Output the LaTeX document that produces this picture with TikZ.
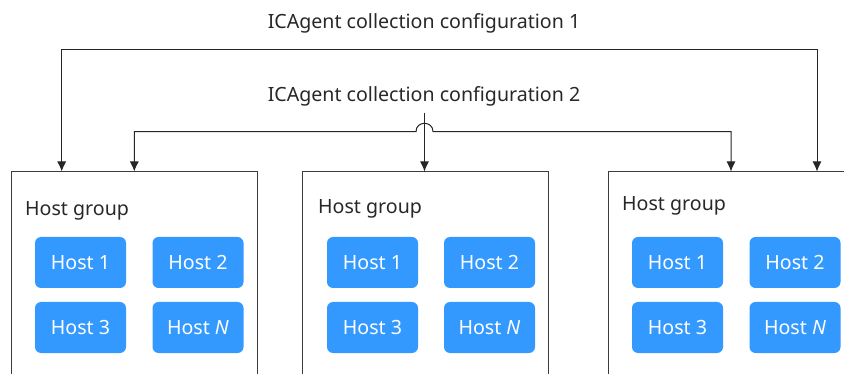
\documentclass[tikz,border=0pt]{standalone}
\usepackage{fontspec}
\setmainfont{Noto Sans}
\usetikzlibrary{arrows.meta}
\definecolor{hostblue}{RGB}{51,153,255}
\definecolor{linegray}{RGB}{60,60,60}
\definecolor{txtgray}{RGB}{40,40,40}
\tikzset{
  x=1pt,y=-1pt,
  groupbox/.style={draw=linegray, line width=1pt, fill=white, anchor=north west, minimum width=246pt, minimum height=220pt, inner sep=0pt},
  hostbox/.style={fill=hostblue, rounded corners=6pt, minimum width=91pt, minimum height=51pt, inner sep=0pt, text=white, font=\fontsize{19.6}{22}\selectfont},
  grouplbl/.style={anchor=base west, text=txtgray, font=\fontsize{19.6}{22}\selectfont, inner sep=0pt},
  toplbl/.style={text=txtgray, font=\fontsize{19.6}{22}\selectfont, inner sep=0pt},
  conn/.style={draw=black!85, line width=1pt},
  arr/.style={conn, -{Latex[length=10pt,width=9pt]}},
  darr/.style={conn, {Latex[length=10pt,width=9pt]}-{Latex[length=10pt,width=9pt]}}
}
\begin{document}
\begin{tikzpicture}
\clip (0,0) rectangle (844,374);
\fill[white] (0,0) rectangle (844,374);
% labels
\node[toplbl] (c1) at (424,23) {ICAgent collection configuration 1};
\node[toplbl] (c2) at (424,96) {ICAgent collection configuration 2};
% group boxes
\node[groupbox] (g1) at (11,171.5) {};
\node[groupbox] (g2) at (302,171.5) {};
\node[groupbox] (g3) at (608,171.5) {};
% group labels
\node[grouplbl] (l1) at (25,216) {Host group};
\node[grouplbl] (l2) at (318,214) {Host group};
\node[grouplbl] (l3) at (622,211) {Host group};
% hosts
\foreach \g/\xa/\xb in {a/80.5/198, b/372.5/489.5, c/677.5/795}{
  \node[hostbox] (\g1) at (\xa,262.5) {Host 1};
  \node[hostbox] (\g2) at (\xb,262.5) {Host 2};
  \node[hostbox] (\g3) at (\xa,327.5) {Host 3};
  \node[hostbox] (\g4) at (\xb,327.5) {Host \textit{N}};
}
% connector 1
\coordinate (p1) at (61.7,49.3);
\coordinate (p2) at (817,49.3);
\draw[darr] (p1 |- g1.north) -- (p1) -- (p2) -- (p2 |- g3.north);
% connector 2
\coordinate (q1) at (134.3,131.7);
\coordinate (h1) at (416,131.7);
\coordinate (h2) at (433,131.7);
\coordinate (q2) at (731,131.7);
\draw[darr] (q1 |- g1.north) -- (q1) -- (h1) .. controls (416,120.5) and (433,120.5) .. (h2) -- (q2) -- (q2 |- g3.north);
\coordinate (v) at (424.5,113);
\draw[arr] (v) -- (v |- g2.north);
\end{tikzpicture}
\end{document}
